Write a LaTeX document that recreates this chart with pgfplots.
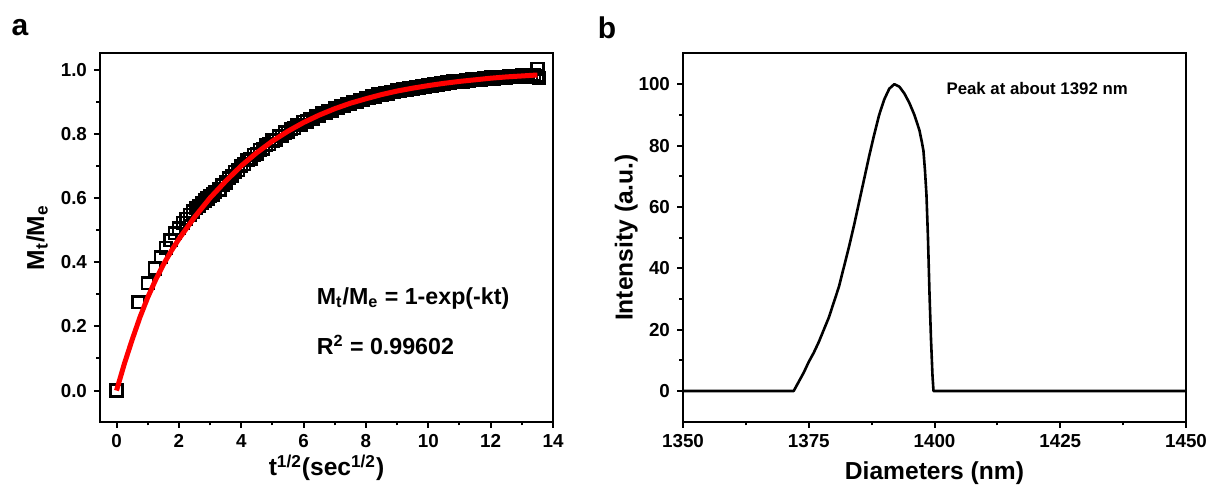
\documentclass[border=0pt]{standalone}
\usepackage{fontspec}
\setmainfont{Liberation Sans}
\usepackage{pgfplots}
\pgfplotsset{compat=1.18}
\definecolor{fitred}{RGB}{255,0,0}
\pgfplotsset{
  common/.style={
    scale only axis,
    anchor=south west,
    axis line style={line width=1pt},
    tick align=outside,
    tick pos=left,
    major tick length=3pt,
    minor tick length=1.8pt,
    every tick/.style={line width=1pt,black},
    tick label style={font=\fontsize{9.4}{11}\selectfont\bfseries},
    /pgf/number format/assume math mode=true,
    /pgf/number format/1000 sep={},
    label style={font=\fontsize{12.3}{14}\selectfont\bfseries},
    clip=false,
    clip marker paths=true,
  }
}
\begin{document}
\begin{tikzpicture}
\useasboundingbox (0,0) rectangle (604.5pt,245.5pt);
\node[font=\fontsize{15}{17}\selectfont\bfseries] at (10pt,231.5pt) {a};
\node[font=\fontsize{15}{17}\selectfont\bfseries] at (303.5pt,231.5pt) {b};

\begin{axis}[common,
  at={(50pt,34.65pt)},
  width=226.5pt, height=184.1pt,
  xmin=-0.53, xmax=14, ymin=-0.097, ymax=1.05,
  xtick={0,2,4,6,8,10,12,14},
  ytick={0,0.2,0.4,0.6,0.8,1.0},
  minor x tick num=1, minor y tick num=1,
  yticklabel style={/pgf/number format/.cd, fixed, fixed zerofill, precision=1},
  xlabel={t\textsuperscript{1/2}(sec\textsuperscript{1/2})},
  ylabel={M\textsubscript{t}/M\textsubscript{e}},
  xlabel style={at={(axis description cs:0.5,-0.125)},anchor=center},
  ylabel style={at={(axis description cs:-0.139,0.5)},anchor=center},
]
\addplot[only marks, mark=square, mark size=2.9pt, mark options={line width=1.3pt, black}] table {
x y
0 0
0.707 0.275
1.0 0.335
1.225 0.380
1.414 0.415
1.581 0.445
1.732 0.468
1.871 0.490
2.0 0.506
2.121 0.522
2.236 0.535
2.345 0.548
2.449 0.558
2.550 0.568
2.646 0.576
2.739 0.584
2.828 0.592
2.915 0.598
3.0 0.605
3.082 0.611
3.162 0.618
3.3 0.626
3.4 0.640
3.5 0.648
3.6 0.662
3.7 0.668
3.8 0.682
3.9 0.687
4.0 0.700
4.1 0.705
4.2 0.718
4.3 0.722
4.4 0.735
4.5 0.738
4.6 0.750
4.7 0.753
4.8 0.765
4.9 0.767
5.0 0.779
5.1 0.781
5.2 0.792
5.3 0.794
5.4 0.804
5.5 0.806
5.6 0.816
5.7 0.817
5.8 0.827
5.9 0.828
6.0 0.837
6.1 0.838
6.2 0.846
6.3 0.847
6.4 0.855
6.5 0.856
6.6 0.864
6.7 0.864
6.8 0.872
6.9 0.872
7.0 0.879
7.1 0.880
7.2 0.887
7.3 0.887
7.4 0.893
7.5 0.893
7.6 0.900
7.7 0.899
7.8 0.906
7.9 0.905
8.0 0.911
8.1 0.911
8.2 0.917
8.3 0.916
8.4 0.922
8.5 0.921
8.6 0.926
8.7 0.925
8.8 0.931
8.9 0.929
9.0 0.935
9.1 0.933
9.2 0.939
9.3 0.937
9.4 0.942
9.5 0.941
9.6 0.946
9.7 0.944
9.8 0.949
9.9 0.947
10.0 0.952
10.1 0.950
10.2 0.955
10.3 0.953
10.4 0.958
10.5 0.955
10.6 0.960
10.7 0.958
10.8 0.963
10.9 0.960
11.0 0.965
11.1 0.962
11.2 0.967
11.3 0.965
11.4 0.969
11.5 0.967
11.6 0.971
11.7 0.968
11.8 0.973
11.9 0.970
12.0 0.975
12.1 0.972
12.2 0.976
12.3 0.973
12.4 0.978
12.5 0.975
12.6 0.979
12.7 0.976
12.8 0.980
12.9 0.977
13.0 0.982
13.1 0.978
13.2 0.983
13.3 0.980
13.4 0.984
13.5 0.981
13.5 1.002
13.55 0.974
};
\addplot[fitred, line width=2.5pt] table {
x y
0 0
0.25 0.083
0.5 0.158
0.75 0.228
1.0 0.290
1.25 0.344
1.5 0.392
1.75 0.434
2.0 0.472
2.5 0.540
3.0 0.600
3.5 0.652
4.0 0.700
4.5 0.741
5.0 0.777
5.5 0.808
6.0 0.835
6.5 0.858
7.0 0.878
7.5 0.895
8.0 0.909
8.5 0.922
9.0 0.933
9.5 0.942
10.0 0.950
10.5 0.957
11.0 0.963
11.5 0.968
12.0 0.973
12.5 0.977
13.0 0.980
13.5 0.983
};
\node[anchor=west, font=\fontsize{11.6}{13}\selectfont\bfseries] at (axis cs:6.2,0.288) {M\textsubscript{t}/M\textsubscript{e} = 1-exp(-kt)};
\node[anchor=west, font=\fontsize{11.6}{13}\selectfont\bfseries] at (axis cs:6.2,0.142) {R\textsuperscript{2} = 0.99602};
\end{axis}

\begin{axis}[common,
  at={(341.5pt,34.65pt)},
  width=251.5pt, height=184.1pt,
  xmin=1350, xmax=1450, ymin=-10, ymax=110,
  xtick={1350,1375,1400,1425,1450},
  ytick={0,20,40,60,80,100},
  minor x tick num=1, minor y tick num=1,
  xlabel={Diameters (nm)},
  ylabel={Intensity (a.u.)},
  xlabel style={at={(axis description cs:0.5,-0.14)},anchor=center},
  ylabel style={at={(axis description cs:-0.113,0.5)},anchor=center},
]
\addplot[black, line width=1.3pt, line join=round] table {
x y
1350 0
1372 0
1373 3
1374 6
1375 9.5
1376 12.5
1377 16
1378 20
1379 24
1380 29
1381 34
1382 40.5
1383 47
1384 54
1385 61.5
1386 69
1387 76.5
1388 83.5
1389 90
1390 95
1391 98.5
1392 100
1393 99.2
1394 97
1395 93.9
1396 90
1397 85
1397.5 81
1397.8 78.3
1398.1 72
1398.4 64
1398.7 50
1399.0 32
1399.3 17
1399.6 5
1399.8 0
1450 0
};
\node[anchor=west, font=\fontsize{8.4}{10}\selectfont\bfseries] at (axis cs:1401,98.5) {Peak at about 1392 nm};
\end{axis}
\end{tikzpicture}
\end{document}
